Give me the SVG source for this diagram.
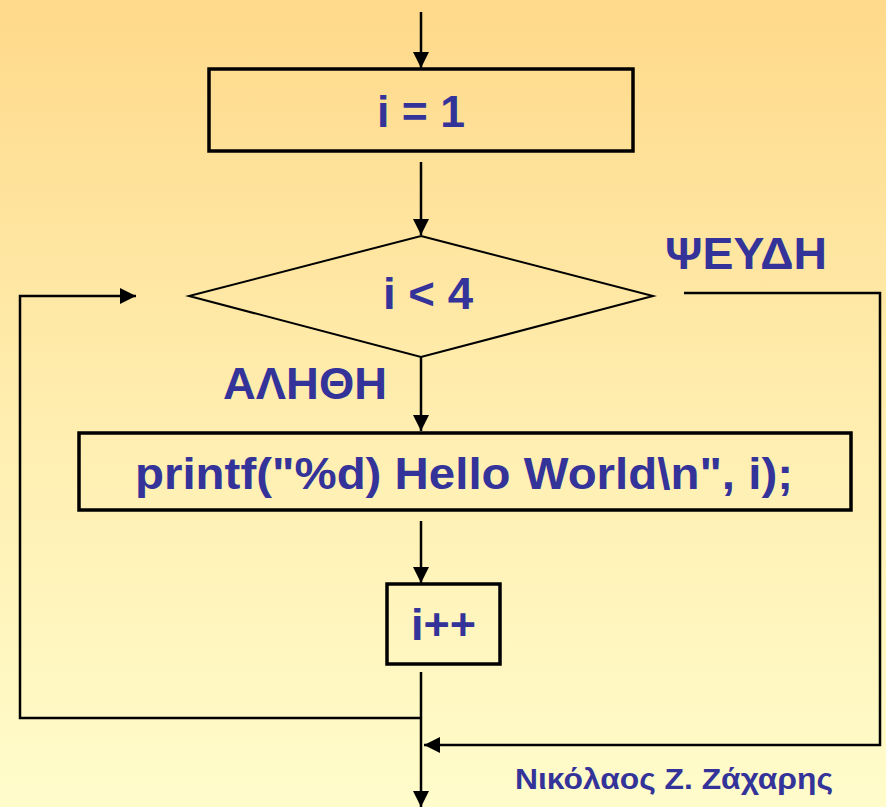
<svg xmlns="http://www.w3.org/2000/svg" width="886" height="807" viewBox="0 0 886 807">
  <defs>
    <linearGradient id="bg" x1="0" y1="0" x2="0" y2="1">
      <stop offset="0" stop-color="#FED98A"/>
      <stop offset="0.5" stop-color="#FFEDAE"/>
      <stop offset="1" stop-color="#FFFCCB"/>
    </linearGradient>
    <marker id="arrow" markerUnits="userSpaceOnUse" markerWidth="16" markerHeight="16" viewBox="0 0 16 16" refX="16" refY="8" orient="auto">
      <path d="M0,0 L16,8 L0,16 Z" fill="#000"/>
    </marker>
  </defs>
  <style>
    .box { fill: none; stroke: #000; stroke-width: 3.5; }
    .diamond { fill: none; stroke: #000; stroke-width: 2; }
    .wire { fill: none; stroke: #000; stroke-width: 2.5; }
    .lbl { font-family: "Liberation Sans", Arial, sans-serif; font-weight: bold; fill: #333399; }
    .big { font-size: 45px; }
    .sign { font-size: 29px; }
  </style>

  <rect x="0" y="0" width="886" height="807" fill="url(#bg)"/>

  <!-- connectors -->
  <g id="connectors">
    <line class="wire" x1="421" y1="12" x2="421" y2="68" marker-end="url(#arrow)"/>
    <line class="wire" x1="421" y1="162" x2="421" y2="235" marker-end="url(#arrow)"/>
    <line class="wire" x1="421" y1="357" x2="421" y2="431" marker-end="url(#arrow)"/>
    <line class="wire" x1="421" y1="521" x2="421" y2="583" marker-end="url(#arrow)"/>
    <line class="wire" x1="421" y1="672" x2="421" y2="807" marker-end="url(#arrow)"/>
    <!-- loop back to the test -->
    <polyline class="wire" points="421,718 20,718 20,296 136,296" marker-end="url(#arrow)"/>
    <!-- exit on false -->
    <polyline class="wire" points="684,293 880,293 880,745 424,745" marker-end="url(#arrow)"/>
  </g>

  <g id="init">
    <rect class="box" x="209" y="69" width="424" height="82"/>
    <text class="lbl big" x="421" y="127" text-anchor="middle" textLength="88" lengthAdjust="spacingAndGlyphs">i = 1</text>
  </g>

  <g id="test">
    <polygon class="diamond" points="421,236 653,296 421,357 189,296"/>
    <text class="lbl big" x="428" y="309" text-anchor="middle" textLength="90" lengthAdjust="spacingAndGlyphs">i &lt; 4</text>
  </g>

  <g id="label-false">
    <text class="lbl big" x="665" y="269" textLength="162" lengthAdjust="spacingAndGlyphs">ΨΕΥΔΗ</text>
  </g>

  <g id="label-true">
    <text class="lbl big" x="223" y="399" textLength="164" lengthAdjust="spacingAndGlyphs">ΑΛΗΘΗ</text>
  </g>

  <g id="print">
    <rect class="box" x="79" y="433" width="772" height="77"/>
    <text class="lbl big" x="135" y="489" textLength="658" lengthAdjust="spacingAndGlyphs">printf("%d) Hello World\n", i);</text>
  </g>

  <g id="increment">
    <rect class="box" x="387" y="584" width="113" height="80"/>
    <text class="lbl big" x="411" y="640" textLength="65" lengthAdjust="spacingAndGlyphs">i++</text>
  </g>

  <g id="author">
    <text class="lbl sign" x="515" y="789" textLength="318" lengthAdjust="spacingAndGlyphs">Νικόλαος Ζ. Ζάχαρης</text>
  </g>
</svg>
